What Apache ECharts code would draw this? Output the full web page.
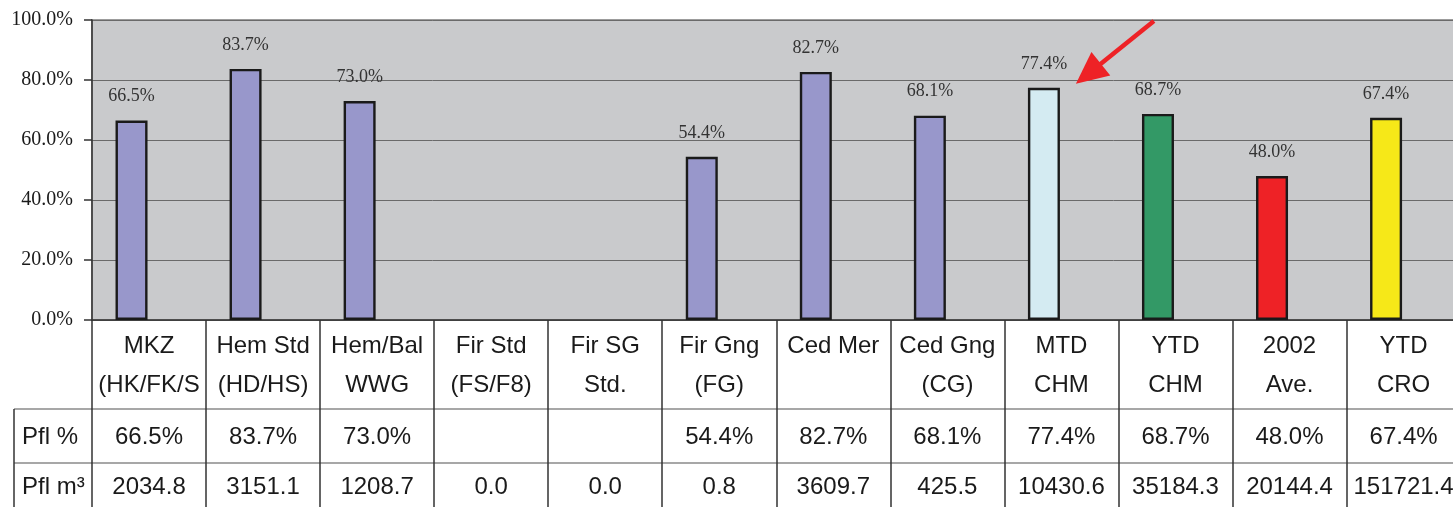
<!DOCTYPE html>
<html>
<head>
<meta charset="utf-8">
<script src="https://cdn.jsdelivr.net/npm/echarts@6/dist/echarts.min.js"></script>
<style>
  html, body { margin: 0; padding: 0; background: #ffffff; }
  #chart { width: 1453px; height: 507px; }
</style>
</head>
<body>
<div id="chart"></div>
<script>
// Product categories (two-line labels in the data table row)
const categories = [
  'MKZ\n(HK/FK/S', 'Hem Std\n(HD/HS)', 'Hem/Bal\nWWG', 'Fir Std\n(FS/F8)',
  'Fir SG\nStd.', 'Fir Gng\n(FG)', 'Ced Mer\n', 'Ced Gng\n(CG)',
  'MTD\nCHM', 'YTD\nCHM', '2002\nAve.', 'YTD\nCRO'
];
// Pfl % per category (null = no data)
const pflPercent = [66.5, 83.7, 73.0, null, null, 54.4, 82.7, 68.1, 77.4, 68.7, 48.0, 67.4];
// Pfl m³ per category
const pflVolume = [2034.8, 3151.1, 1208.7, 0.0, 0.0, 0.8, 3609.7, 425.5, 10430.6, 35184.3, 20144.4, 151721.4];
// Row headers of the data table
const rowHeaders = ['Pfl %', 'Pfl m\u00b3'];
// Y axis range
const yMin = 0, yMax = 100, yStep = 20;

const barColors = [
  '#9897CB', '#9897CB', '#9897CB', '#9897CB', '#9897CB', '#9897CB',
  '#9897CB', '#9897CB', '#D4EBF2', '#339966', '#EE2226', '#F6E818'
];

const chart = echarts.init(document.getElementById('chart'), null, { renderer: 'canvas' });

const SANS = '"Liberation Sans", Arial, Helvetica, sans-serif';
const SERIF = '"Liberation Serif", "Times New Roman", serif';
const COL_W = 114.05;
const TEXT = '#1a1a1a';

const tableAxisBase = {
  type: 'category',
  gridIndex: 0,
  position: 'bottom',
  data: categories,
  boundaryGap: true,
  axisTick: { show: true, inside: false, alignWithLabel: false, lineStyle: { color: '#333', width: 1.5 } },
  splitLine: { show: false }
};

const option = {
  animation: false,
  backgroundColor: '#ffffff',
  grid: [
    { // plot area + data table columns
      left: 92, top: 20, width: 12 * COL_W, height: 300,
      show: true, backgroundColor: '#C9CACC', borderColor: '#9c9c9c', borderWidth: 2,
      outerBoundsMode: 'none', containLabel: false
    },
    { // bars (shifted slightly left inside each column)
      left: 74.5, top: 20, width: 12 * COL_W, height: 300,
      show: false, outerBoundsMode: 'none', containLabel: false
    }
  ],
  xAxis: [
    Object.assign({}, tableAxisBase, {
      offset: 0,
      axisLine: { show: true, lineStyle: { color: '#333', width: 1.5 } },
      axisTick: Object.assign({}, tableAxisBase.axisTick, { length: 89 }),
      axisLabel: {
        show: true, interval: 0, margin: 7,
        fontFamily: SANS, fontSize: 24, lineHeight: 39, color: TEXT, align: 'center'
      }
    }),
    Object.assign({}, tableAxisBase, {
      offset: 89,
      axisLine: { show: true, lineStyle: { color: '#8a8a8a', width: 1.5 } },
      axisTick: Object.assign({}, tableAxisBase.axisTick, { length: 54 }),
      axisLabel: {
        show: true, interval: 0, margin: 16,
        fontFamily: SANS, fontSize: 24, lineHeight: 24, color: TEXT,
        formatter: (v, i) => pflPercent[i] == null ? '' : pflPercent[i].toFixed(1) + '%'
      }
    }),
    Object.assign({}, tableAxisBase, {
      offset: 143,
      axisLine: { show: true, lineStyle: { color: '#8a8a8a', width: 1.5 } },
      axisTick: Object.assign({}, tableAxisBase.axisTick, { length: 60 }),
      axisLabel: {
        show: true, interval: 0, margin: 12,
        fontFamily: SANS, fontSize: 24, lineHeight: 24, color: TEXT,
        formatter: (v, i) => pflVolume[i].toFixed(1)
      }
    }),
    {
      type: 'category', gridIndex: 1, data: categories, show: false
    }
  ],
  yAxis: [
    {
      type: 'value', gridIndex: 0, min: yMin, max: yMax, interval: yStep,
      axisLine: { show: true, lineStyle: { color: '#333', width: 1.5 } },
      axisTick: { show: true, inside: false, length: 8, lineStyle: { color: '#333', width: 1.5 } },
      axisLabel: {
        margin: 19, fontFamily: SERIF, fontSize: 20, color: TEXT,
        formatter: v => v.toFixed(1) + '%'
      },
      splitLine: { show: true, lineStyle: { color: '#6a6a6a', width: 1 } }
    },
    {
      type: 'value', gridIndex: 1, min: yMin, max: yMax, interval: yStep, show: false,
      splitLine: { show: false }
    }
  ],
  series: [
    {
      type: 'bar',
      xAxisIndex: 3, yAxisIndex: 1,
      barWidth: 32,
      data: pflPercent.map((v, i) => ({
        value: v,
        itemStyle: { color: barColors[i], borderColor: '#1a1a1a', borderWidth: 2.4 }
      })),
      label: {
        show: true, position: 'top', distance: 15,
        fontFamily: SERIF, fontSize: 18, color: '#333',
        formatter: p => p.value == null ? '' : Number(p.value).toFixed(1) + '%'
      }
    }
  ]
};

chart.setOption(option);

// Data table row headers and their cell borders, plus the highlight arrow
function drawExtras() {
  const rowTop1 = 20 + 300 + 89;   // Pfl % row
  const rowTop2 = 20 + 300 + 143;  // Pfl m³ row
  const leftX = 14, tableX = 92;
  const lineStyle = { stroke: '#8a8a8a', lineWidth: 1.5 };

  const elements = [
    { type: 'line', shape: { x1: leftX, y1: rowTop1, x2: tableX, y2: rowTop1 }, style: lineStyle, silent: true },
    { type: 'line', shape: { x1: leftX, y1: rowTop2, x2: tableX, y2: rowTop2 }, style: lineStyle, silent: true },
    { type: 'line', shape: { x1: leftX, y1: rowTop1, x2: leftX, y2: 520 }, style: { stroke: '#333', lineWidth: 1.5 }, silent: true },
    {
      type: 'text', left: 22, top: rowTop1 + 16,
      style: { text: rowHeaders[0], font: '24px ' + SANS, fill: TEXT }
    },
    {
      type: 'text', left: 22, top: rowTop2 + 12,
      style: { text: rowHeaders[1], font: '24px ' + SANS, fill: TEXT }
    }
  ];

  // Arrow pointing at the MTD CHM bar
  const idx = 8;
  const [bx, by] = chart.convertToPixel({ xAxisIndex: 3, yAxisIndex: 1 }, [idx, pflPercent[idx]]);
  const topY = chart.convertToPixel({ xAxisIndex: 3, yAxisIndex: 1 }, [idx, yMax])[1];
  const tip = [bx + 32, by - 4];
  const start = [bx + 110, topY + 1];
  const dx = tip[0] - start[0], dy = tip[1] - start[1];
  const len = Math.sqrt(dx * dx + dy * dy);
  const ux = dx / len, uy = dy / len;
  const headLen = 32, headHalf = 15;
  const base = [tip[0] - ux * headLen, tip[1] - uy * headLen];
  const px = -uy, py = ux;
  elements.push({
    type: 'line', silent: true,
    shape: { x1: start[0], y1: start[1], x2: base[0] + ux * 2, y2: base[1] + uy * 2 },
    style: { stroke: '#EE2226', lineWidth: 4.5 }
  });
  elements.push({
    type: 'polygon', silent: true,
    shape: { points: [tip, [base[0] + px * headHalf, base[1] + py * headHalf], [base[0] - px * headHalf, base[1] - py * headHalf]] },
    style: { fill: '#EE2226' }
  });

  chart.setOption({ graphic: { elements: elements } });
}
drawExtras();
</script>
</body>
</html>
